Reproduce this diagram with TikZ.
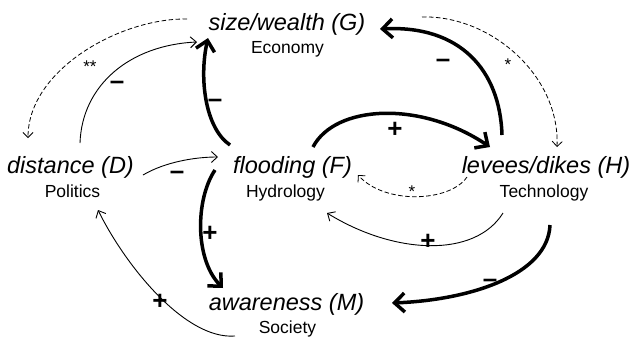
\documentclass[tikz,border=0pt]{standalone}
\usepackage{fontspec}
\setmainfont{Liberation Sans}
\usetikzlibrary{arrows.meta}
\begin{document}
\begin{tikzpicture}[x=1pt,y=-1pt,
  title/.style={font=\fontsize{23.5}{26}\selectfont\itshape, anchor=base, inner sep=0pt},
  sub/.style={font=\fontsize{17.5}{20}\selectfont, anchor=base, inner sep=0pt},
  thicklink/.style={line width=3.5pt, -{Straight Barb[length=10pt,width=19pt]}},
  thinlink/.style={line width=0.9pt, -{Straight Barb[length=6pt,width=11pt]}},
  dashlink/.style={line width=0.8pt, dash pattern=on 4.5pt off 2.5pt, -{Straight Barb[length=5pt,width=10pt]}},
  sign/.style={font=\fontsize{26}{28}\selectfont\bfseries, anchor=base, inner sep=0pt},
  star/.style={font=\fontsize{17}{20}\selectfont, anchor=base, inner sep=0pt}]
\useasboundingbox (0,0) rectangle (633,343);

\node[title] (G) at (287,30) {size/wealth (G)};
\node[sub] (Ge) at (287.5,53) {Economy};
\node[title] (D) at (70.5,173) {distance (D)};
\node[sub] (Dp) at (72.5,197) {Politics};
\node[title] (F) at (292.5,173) {flooding (F)};
\node[sub] (Fh) at (285.5,197) {Hydrology};
\node[title] (H) at (546,173) {levees/dikes (H)};
\node[sub] (Ht) at (544,197) {Technology};
\node[title] (M) at (286.5,310) {awareness (M)};
\node[sub] (Ms) at (287.5,333) {Society};

% G -> D dashed
\draw[dashlink] ([shift={(-100,-11)}]G.base) .. controls +(-67,-1) and +(0,-68) .. ([shift={(-42.5,-35)}]D.base);
% D -> G thin
\draw[thinlink] ([shift={(9.5,-30)}]D.base) .. controls +(2,-58) and +(-67,3) .. ([shift={(-90,12)}]G.base);
% F -> G thick
\draw[thicklink] ([shift={(-62.5,-28)}]F.base) .. controls +(-25,-17) and +(-9,40) .. ([shift={(-79,8)}]G.base);
% H -> G thick
\draw[thicklink] ([shift={(-44,-38)}]H.base) .. controls +(-2,-65) and +(80,-4) .. ([shift={(93,-1)}]G.base);
% G -> H dashed
\draw[dashlink] ([shift={(135,-13)}]G.base) .. controls +(68,-2) and +(3,-72) .. ([shift={(11,-26)}]H.base);
% F -> H thick
\draw[thicklink] ([shift={(20.5,-26)}]F.base) .. controls +(22,-42) and +(-70,-47) .. ([shift={(-56,-26)}]H.base);
% H -> F dashed
\draw[dashlink] ([shift={(-79,4)}]H.base) .. controls +(-17,25) and +(27,30) .. ([shift={(65.5,2)}]F.base);
% H -> F thin
\draw[thinlink] ([shift={(-43,40)}]H.base) .. controls +(-28,45) and +(68,42) .. ([shift={(34.5,40)}]F.base);
% H -> M thick
\draw[thicklink] ([shift={(4,52)}]H.base) .. controls +(-2,50) and +(78,-3) .. ([shift={(105.5,-7)}]M.base);
% F -> M thick
\draw[thicklink] ([shift={(-77.5,-3)}]F.base) .. controls +(-20,30) and +(-28,-28) .. ([shift={(-63.5,-22)}]M.base);
% M -> D thin
\draw[thinlink] ([shift={(-51.5,26)}]M.base) .. controls +(-50,4) and +(27,55) .. ([shift={(27.5,37)}]D.base);
% D -> F thin
\draw[thinlink] ([shift={(72.5,2)}]D.base) .. controls +(22,-13) and +(-23,0) .. ([shift={(-74.5,-16)}]F.base);

% labels
\node[star] (l1) at (90,72) {**};
\node[sign] (l2) at (117,89) {\textendash};
\node[sign] (l3) at (215,107) {\textendash};
\node[sign] (l4) at (443,67) {\textendash};
\node[star] (l5) at (508,70) {*};
\node[sign] (l6) at (395,137.5) {+};
\node[star] (l7) at (412,197) {*};
\node[sign] (l8) at (428,249.5) {+};
\node[sign] (l9) at (490,287) {\textendash};
\node[sign] (l10) at (210,241.5) {+};
\node[sign] (l11) at (160,309.5) {+};
\node[sign] (l12) at (177,179) {\textendash};
\end{tikzpicture}
\end{document}
